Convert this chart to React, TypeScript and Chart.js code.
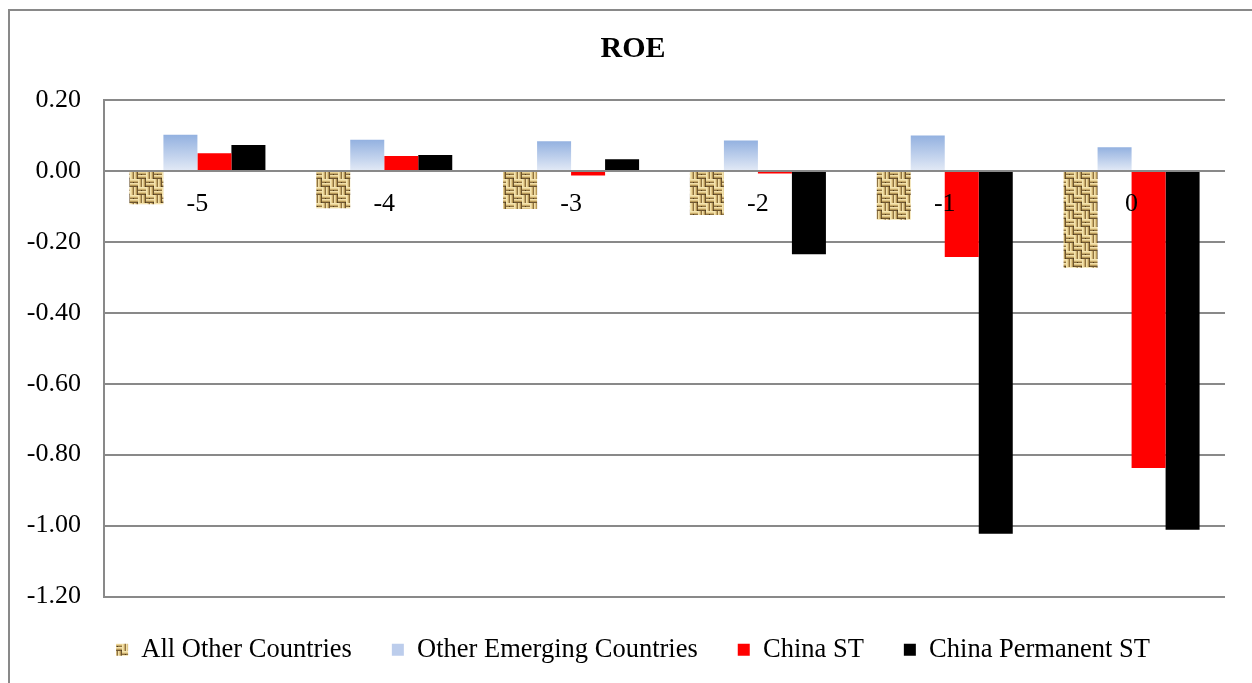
import React, { useEffect, useRef } from 'react';
import { Chart, registerables } from 'chart.js';

Chart.register(...registerables);

// Event windows (years relative to the event)
const CATEGORIES = ['-5', '-4', '-3', '-2', '-1', '0'];

// ROE by group
const ALL_OTHER_COUNTRIES = [-0.094, -0.105, -0.107, -0.124, -0.138, -0.273];
const OTHER_EMERGING_COUNTRIES = [0.102, 0.088, 0.084, 0.086, 0.1, 0.067];
const CHINA_ST = [0.05, 0.042, -0.013, -0.007, -0.243, -0.838];
const CHINA_PERMANENT_ST = [0.073, 0.045, 0.033, -0.235, -1.023, -1.012];

const SERIES_NAMES = ['All Other Countries', 'Other Emerging Countries', 'China ST', 'China Permanent ST'];

// Value axis
const Y_TICKS = [0.2, 0, -0.2, -0.4, -0.6, -0.8, -1.0, -1.2];
const Y_MIN = -1.2;
const Y_MAX = 0.2;

const FONT = "'Liberation Serif', 'Times New Roman', serif";
const GRID = '#898989';
const BLUE_TOP = '#93b1e0';
const BLUE_BOTTOM = '#e3eaf6';
const BLUE_FLAT = '#bccdec';

// Woven tan texture used for the "All Other Countries" bars
function makeBurlap(): CanvasPattern | string {
  const q = 8;
  const size = q * 2;
  const tile = document.createElement('canvas');
  tile.width = size;
  tile.height = size;
  const t = tile.getContext('2d');
  if (!t) return '#d4b97c';
  const strand = ['#f4e4b0', '#ead496', '#c9ac6c', '#8e7240', '#f2e0a9', '#e0c688', '#b69857', '#6e5530'];
  // horizontal strands in two quadrants, vertical strands in the other two
  for (const [ox, oy, horiz] of [[0, 0, true], [q, q, true], [q, 0, false], [0, q, false]] as [number, number, boolean][]) {
    for (let k = 0; k < q; k++) {
      t.fillStyle = strand[k];
      if (horiz) t.fillRect(ox, oy + k, q, 1);
      else t.fillRect(ox + k, oy, 1, q);
    }
  }
  t.fillStyle = '#4e3b1c';
  for (const [x, y] of [[q - 1, q - 1], [size - 1, size - 1], [size - 1, q - 1], [q - 1, size - 1], [3, 3], [q + 3, q + 3]]) {
    t.fillRect(x, y, 1, 1);
  }
  return t.createPattern(tile, 'repeat') || '#d4b97c';
}

export default function App() {
  const canvasRef = useRef<HTMLCanvasElement | null>(null);

  useEffect(() => {
    const canvas = canvasRef.current;
    if (!canvas) return;
    const burlap = makeBurlap();

    const blueFill = (c: any) => {
      const chart = c.chart;
      if (!chart.chartArea || c.type !== 'data') return BLUE_FLAT;
      const y = chart.scales.y;
      const top = y.getPixelForValue(c.raw as number);
      const base = y.getPixelForValue(0);
      if (!isFinite(top) || !isFinite(base) || top === base) return BLUE_FLAT;
      const g = chart.ctx.createLinearGradient(0, top, 0, base);
      g.addColorStop(0, BLUE_TOP);
      g.addColorStop(1, BLUE_BOTTOM);
      return g;
    };

    const legendFills: (string | CanvasPattern)[] = [burlap, BLUE_FLAT, '#ff0000', '#000000'];

    const chart = new Chart(canvas, {
      type: 'bar',
      data: {
        labels: CATEGORIES,
        datasets: [
          { label: SERIES_NAMES[0], data: ALL_OTHER_COUNTRIES, backgroundColor: burlap as any },
          { label: SERIES_NAMES[1], data: OTHER_EMERGING_COUNTRIES, backgroundColor: blueFill as any },
          { label: SERIES_NAMES[2], data: CHINA_ST, backgroundColor: '#ff0000' },
          { label: SERIES_NAMES[3], data: CHINA_PERMANENT_ST, backgroundColor: '#000000' },
        ],
      },
      options: {
        responsive: false,
        animation: false,
        events: [],
        layout: { padding: { top: 0, left: 0, right: 0, bottom: 10 } },
        datasets: {
          bar: { barPercentage: 1, categoryPercentage: 0.728, borderWidth: 0 },
        },
        scales: {
          x: {
            type: 'category',
            position: { y: 0 } as any,
            offset: true,
            grid: {
              display: true,
              drawOnChartArea: false,
              drawTicks: true,
              tickLength: 18,
              tickColor: 'rgba(0,0,0,0)',
            },
            border: { display: false },
            ticks: {
              z: 1,
              padding: 0,
              autoSkip: false,
              maxRotation: 0,
              color: '#000',
              font: { family: FONT, size: 26 },
            },
          },
          y: {
            type: 'linear',
            position: 'left',
            min: Y_MIN,
            max: Y_MAX,
            grid: { color: GRID, lineWidth: 2, drawTicks: false },
            border: { display: true, color: GRID, width: 2 },
            ticks: {
              padding: 23,
              color: '#000',
              font: { family: FONT, size: 26 },
              callback: (v: any) => Number(v).toFixed(2),
            },
            afterBuildTicks: (s: any) => {
              s.ticks = Y_TICKS.map((v) => ({ value: v }));
            },
            afterFit: (s: any) => {
              s.width = 94;
            },
          },
          yPad: {
            type: 'linear',
            position: 'right',
            display: true,
            grid: { display: false, drawTicks: false },
            border: { display: false },
            ticks: { display: false },
            afterFit: (s: any) => {
              s.width = 31;
            },
          },
        },
        plugins: {
          title: {
            display: true,
            text: 'ROE',
            color: '#000',
            font: { family: FONT, size: 30, weight: 'bold' },
            padding: { top: 20, bottom: 33 },
          },
          legend: {
            display: true,
            position: 'bottom',
            labels: {
              color: '#000',
              font: { family: FONT, size: 26.5 },
              boxWidth: 12,
              boxHeight: 12,
              padding: 40,
              generateLabels: (ch: any) => {
                const items = Chart.defaults.plugins.legend.labels.generateLabels(ch);
                return items.map((it: any, i: number) => ({
                  ...it,
                  fillStyle: legendFills[i],
                  strokeStyle: 'rgba(0,0,0,0)',
                  lineWidth: 0,
                }));
              },
            },
          },
          tooltip: { enabled: false },
        },
      },
    });

    return () => chart.destroy();
  }, []);

  return (
    <div
      style={{
        position: 'fixed',
        left: 8,
        top: 9,
        width: 1260,
        height: 690,
        borderTop: `2px solid ${GRID}`,
        borderLeft: `2px solid ${GRID}`,
        background: '#fff',
        overflow: 'hidden',
      }}
    >
      <canvas ref={canvasRef} width={1246} height={672} style={{ display: 'block', width: 1246, height: 672 }} />
    </div>
  );
}
